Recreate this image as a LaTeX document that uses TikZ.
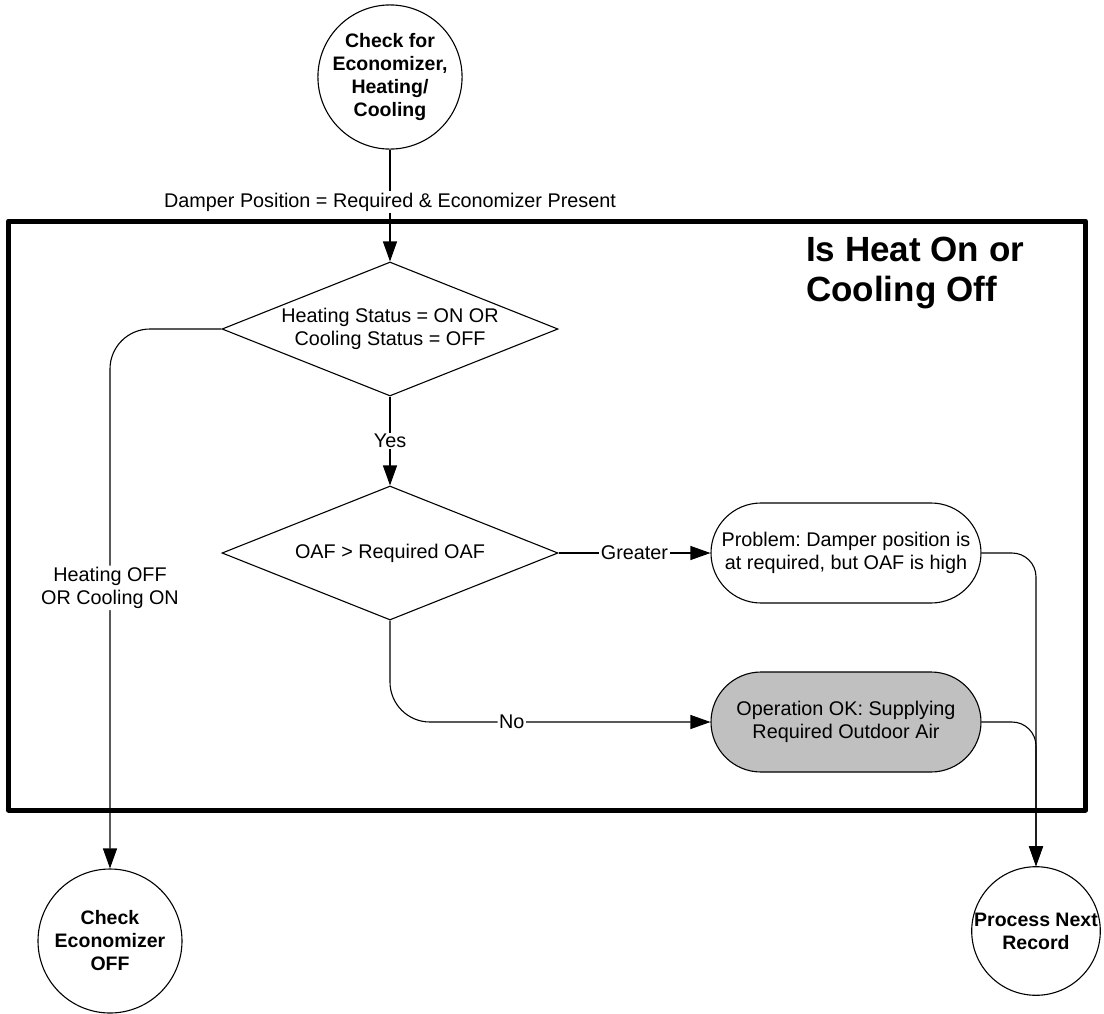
\documentclass[tikz,border=0pt]{standalone}
\usepackage{fontspec}
\setmainfont{Liberation Sans}
\usetikzlibrary{arrows.meta,shapes.geometric}
\frenchspacing
\begin{document}
\begin{tikzpicture}[x=1pt,y=-1pt,
  txt/.style={font=\fontsize{19.8}{23}\selectfont, align=center},
  bold/.style={font=\fontsize{19.5}{23}\selectfont\bfseries, align=center},
  term/.style={draw, circle, line width=1.1pt, bold, inner sep=0pt},
  decision/.style={draw, diamond, aspect=2.5, inner sep=0pt, line width=1.1pt,
    minimum width=336pt, minimum height=134pt, txt},
  outcome/.style={draw, rectangle, rounded corners=50pt, line width=1.1pt,
    minimum width=270pt, minimum height=100pt, inner sep=0pt, txt},
  flow/.style={line width=1.1pt, -{Triangle[length=20pt,width=14pt]}},
  lbl/.style={txt, fill=white, inner sep=1.5pt},
  frame/.style={line width=5pt, line join=round}
]
\useasboundingbox (0,0) rectangle (1104,1013);

% terminals
\node[term, minimum size=144pt] (start) at (390,77) {Check for\\Economizer,\\Heating/\\Cooling};
\node[term, minimum size=144pt] (econoff) at (110,941) {Check\\Economizer\\OFF};
\node[term, minimum size=128pt] (next) at (1036,931) {Process Next\\Record};

% decisions
\node[decision] (heat) at (390,329) {Heating Status = ON OR\\Cooling Status = OFF};
\node[decision] (oaf) at (390,553) {OAF > Required OAF};

% outcomes
\node[outcome] (problem) at (846,553) {Problem: Damper position is\\at required, but OAF is high};
\node[outcome, fill={rgb,255:red,192;green,192;blue,192}] (ok) at (846,722) {Operation OK: Supplying\\Required Outdoor Air};

% connectors
\draw[flow] (start.south) -- node[lbl, pos=0.47] {Damper Position = Required \& Economizer Present} (heat.north);
\draw[flow] (heat.south) -- node[lbl] {Yes} (oaf.north);
\draw[flow] (oaf.east) -- node[lbl] {Greater} (problem.west);
\draw[flow, rounded corners=40pt] (oaf.south) |- node[lbl, pos=0.69] {No} (ok.west);
\draw[flow, rounded corners=40pt] (heat.west) -| node[lbl, pos=0.74] {Heating OFF\\OR Cooling ON} (econoff.north);
\draw[flow, rounded corners=24pt] (problem.east) -| (next.north);
\draw[flow, rounded corners=24pt] (ok.east) -| (next.north);

% enclosing frame and its title
\draw[frame] (8.5,221) rectangle (1085.5,810);
\node[anchor=west, align=left, inner sep=0pt,
  font=\fontsize{35}{40}\selectfont\bfseries] (title) at (806,273) {Is Heat On or\\Cooling Off};
\end{tikzpicture}
\end{document}
